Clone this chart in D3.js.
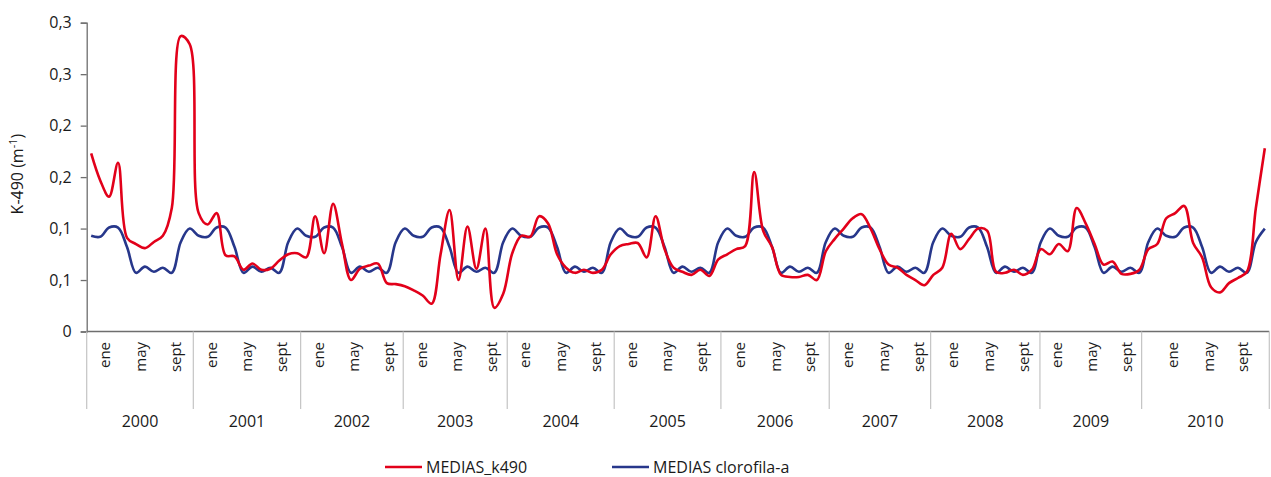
<!DOCTYPE html>
<html><head><meta charset="utf-8">
<script src="https://cdn.jsdelivr.net/npm/d3@7"></script>
<style>
body{margin:0;background:#fff}
svg{display:block}
text{font-family:"Open Sans",sans-serif;fill:#1a1a1a}
</style>
</head><body>
<svg id="chart" width="1271" height="477"></svg>
<script>
const years = ["2000","2001","2002","2003","2004","2005","2006","2007","2008","2009","2010"];
const monthLabels = ["ene","may","sept"];
const yTickValues = [0, 0.05, 0.10, 0.15, 0.20, 0.25, 0.30];
const yTickLabels = ["0","0,1","0,1","0,2","0,2","0,3","0,3"];
const seriesNames = ["MEDIAS_k490","MEDIAS clorofila-a"];

// monthly means, 2000-01 .. 2010-12
const k490 = [
 0.173,0.147,0.131,0.164,0.091,0.085,0.081,0.087,0.093,0.120,0.287,0.279,
 0.115,0.104,0.115,0.074,0.073,0.060,0.066,0.060,0.061,0.069,0.075,0.076,
 0.072,0.112,0.076,0.124,0.085,0.050,0.061,0.064,0.066,0.047,0.046,0.044,
 0.040,0.035,0.027,0.075,0.118,0.050,0.102,0.061,0.100,0.023,0.037,0.076,
 0.093,0.092,0.112,0.105,0.075,0.062,0.057,0.060,0.057,0.060,0.075,0.083,
 0.085,0.086,0.072,0.112,0.080,0.062,0.058,0.055,0.060,0.054,0.070,0.075,
 0.080,0.083,0.155,0.098,0.082,0.055,0.053,0.053,0.055,0.050,0.078,0.090,
 0.100,0.110,0.114,0.100,0.080,0.065,0.062,0.055,0.050,0.045,0.055,0.062,
 0.095,0.080,0.090,0.100,0.098,0.058,0.057,0.060,0.055,0.060,0.080,0.075,
 0.085,0.078,0.120,0.105,0.085,0.065,0.068,0.056,0.056,0.060,0.080,0.085,
 0.110,0.115,0.122,0.086,0.072,0.043,0.038,0.047,0.052,0.058,0.120,0.178
];
const clorofila = [
 0.093,0.092,0.101,0.101,0.082,0.057,0.063,0.058,0.062,0.057,0.087,0.100,
 0.093,0.092,0.101,0.101,0.082,0.057,0.063,0.058,0.062,0.057,0.087,0.100,
 0.093,0.092,0.101,0.101,0.082,0.057,0.063,0.058,0.062,0.057,0.087,0.100,
 0.093,0.092,0.101,0.101,0.082,0.057,0.063,0.058,0.062,0.057,0.087,0.100,
 0.093,0.092,0.101,0.101,0.082,0.057,0.063,0.058,0.062,0.057,0.087,0.100,
 0.093,0.092,0.101,0.101,0.082,0.057,0.063,0.058,0.062,0.057,0.087,0.100,
 0.093,0.092,0.101,0.101,0.082,0.057,0.063,0.058,0.062,0.057,0.087,0.100,
 0.093,0.092,0.101,0.101,0.082,0.057,0.063,0.058,0.062,0.057,0.087,0.100,
 0.093,0.092,0.101,0.101,0.082,0.057,0.063,0.058,0.062,0.057,0.087,0.100,
 0.093,0.092,0.101,0.101,0.082,0.057,0.063,0.058,0.062,0.057,0.087,0.100,
 0.093,0.092,0.101,0.101,0.082,0.057,0.063,0.058,0.062,0.057,0.087,0.100
];
// category-axis group layout (in category units, as drawn in the original)
const yearBreaks = [0,11.9,23.88,35.33,46.94,58.88,70.79,82.88,94.2,106.4,117.75,132];
const eneAt = [2.04,13.95,25.85,37.39,48.92,60.83,72.91,85.0,96.72,108.26,121.24];
const labelStep = [0,3.95,7.85];

const colors = {k490:"#e2001a", chl:"#27378b", axis:"#6e6e6e", sep:"#c4c4c4"};
const plot = {left:86.7, right:1269.3, top:22.7, bottom:331.5};

const svg = d3.select("#chart");
const n = k490.length;
const x = d3.scaleLinear().domain([0, n]).range([plot.left, plot.right]);
const y = d3.scaleLinear().domain([0, 0.3]).range([plot.bottom, plot.top]);

// y axis
const yAxis = d3.axisLeft(y).tickValues(yTickValues).tickSize(6).tickPadding(9)
  .tickFormat((d,i)=>yTickLabels[i]);
const gy = svg.append("g").attr("transform",`translate(${plot.left},0)`).call(yAxis);
gy.select(".domain").attr("stroke",colors.axis).attr("stroke-width",1.3);
gy.selectAll(".tick line").attr("stroke",colors.axis).attr("stroke-width",1.3);
gy.selectAll(".tick text").style("font-size","16px").attr("fill","#1a1a1a");

// y title
const yt = svg.append("text").attr("transform",`translate(23,${(plot.top+plot.bottom)/2 - 3}) rotate(-90)`)
  .attr("text-anchor","middle").style("font-size","16px");
yt.append("tspan").text("K-490 (m");
yt.append("tspan").attr("dy","-6").style("font-size","11px").text("-1");
yt.append("tspan").attr("dy","6").text(")");

// bottom axis line
svg.append("line").attr("x1",plot.left).attr("x2",plot.right).attr("y1",plot.bottom).attr("y2",plot.bottom)
  .attr("stroke",colors.axis).attr("stroke-width",1.3);

// group separators
svg.append("g").selectAll("line").data(yearBreaks).join("line")
  .attr("x1",d=>x(d)).attr("x2",d=>x(d)).attr("y1",plot.bottom).attr("y2",409)
  .attr("stroke",colors.sep).attr("stroke-width",1.2);

// month labels
const ml = [];
eneAt.forEach(e=>monthLabels.forEach((m,j)=>ml.push({pos:e+labelStep[j], label:m})));
svg.append("g").selectAll("text").data(ml).join("text")
  .attr("transform",d=>`translate(${x(d.pos)},342) rotate(-90)`)
  .attr("text-anchor","end").attr("dy","0.35em").style("font-size","15px").text(d=>d.label);

// year labels
svg.append("g").selectAll("text").data(years).join("text")
  .attr("x",(d,i)=>x((yearBreaks[i]+yearBreaks[i+1])/2)).attr("y",427)
  .attr("text-anchor","middle").style("font-size","16px").text(d=>d);

// lines
const line = d3.line().x((d,i)=>x(i+0.5)).y(d=>y(d)).curve(d3.curveCatmullRom.alpha(0.5));
svg.append("path").datum(clorofila).attr("d",line).attr("fill","none")
  .attr("stroke",colors.chl).attr("stroke-width",2.6);
svg.append("path").datum(k490).attr("d",line).attr("fill","none")
  .attr("stroke",colors.k490).attr("stroke-width",2.6);

// legend
const leg = [{name:seriesNames[0],c:colors.k490,x:385},{name:seriesNames[1],c:colors.chl,x:612}];
const lg = svg.append("g").selectAll("g").data(leg).join("g").attr("transform",d=>`translate(${d.x},467)`);
lg.append("line").attr("x1",0).attr("x2",37).attr("stroke",d=>d.c).attr("stroke-width",2.6);
lg.append("text").attr("x",41).attr("dy","0.35em").style("font-size","16px").text(d=>d.name);
</script>
</body></html>
